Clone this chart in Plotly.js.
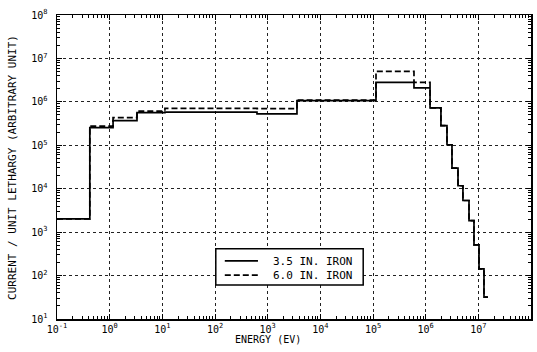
<!DOCTYPE html>
<html>
<head>
<meta charset="utf-8">
<script src="https://cdn.plot.ly/plotly-3.0.1.min.js"></script>
<style>html,body{margin:0;padding:0;background:#fff;}#chart{width:537px;height:352px;}</style>
</head>
<body>
<div id="chart"></div>
<script>
// Energy group boundaries (eV)
const binEdges = [0.1, 0.42, 1.16, 3.3, 11.2, 627, 3600, 1.14e5, 6.0e5, 1.21e6, 1.95e6, 2.54e6, 3.16e6, 4.11e6, 5.1e6, 6.65e6, 8.27e6, 1.03e7, 1.28e7, 1.52e7];
// Current per unit lethargy, one value per group
const iron35 = [2020, 2.54e5, 3.68e5, 5.63e5, 5.78e5, 5.26e5, 1.07e6, 2.82e6, 2.09e6, 7.23e5, 2.83e5, 1.03e5, 2.99e4, 1.17e4, 5350, 1850, 509, 142, 32];
const iron60 = [2020, 2.76e5, 4.32e5, 6.1e5, 7.08e5, 6.97e5, 1.10e6, 5.05e6, 2.82e6, 7.23e5, 2.83e5, 1.03e5, 2.99e4, 1.17e4, 5350, 1850, 509, 142, 32];
const seriesNames = ["3.5 IN. IRON", "6.0 IN. IRON"];
const xExponents = [-1, 0, 1, 2, 3, 4, 5, 6, 7, 8];
const yExponents = [1, 2, 3, 4, 5, 6, 7, 8];

function steps(edges, vals) {
  const x = [], y = [];
  for (let i = 0; i < vals.length; i++) { x.push(edges[i]); y.push(vals[i]); }
  x.push(edges[vals.length]); y.push(vals[vals.length - 1]);
  return {x, y};
}
function minorVals(lo, hi) {
  const v = [];
  for (let e = lo; e < hi; e++) for (let m = 2; m <= 9; m++) v.push(m * Math.pow(10, e));
  return v;
}
const s1 = steps(binEdges, iron35), s2 = steps(binEdges, iron60);
const FONT = "DejaVu Sans Mono, Liberation Mono, monospace";
const DASH = "6px,3px";

const traces = [
  {x: s1.x, y: s1.y, name: seriesNames[0], mode: "lines", line: {shape: "hv", color: "#000", width: 1.7}},
  {x: s2.x, y: s2.y, name: seriesNames[1], mode: "lines", line: {shape: "hv", color: "#000", width: 1.7, dash: DASH}}
];

const axisCommon = {
  type: "log", showline: true, mirror: "allticks", linecolor: "#000", linewidth: 1.5,
  ticks: "inside", ticklen: 5, tickcolor: "#000", tickwidth: 1,
  showgrid: true, gridcolor: "#222", gridwidth: 1, griddash: "3px,3px",
  zeroline: false, tickmode: "array",
  tickfont: {family: FONT, size: 10, color: "#000"}
};

// legend box geometry in paper coordinates
const lg = {x0: 0.335, x1: 0.646, y0: 0.112, y1: 0.231, row1: 0.1911, row2: 0.144, mid: 0.1675, lx0: 0.354, lx1: 0.424, tx: 0.452};

const layout = {
  width: 537, height: 352,
  margin: {l: 57, r: 6, t: 15, b: 33},
  paper_bgcolor: "#fff", plot_bgcolor: "#fff",
  font: {family: FONT, color: "#000"},
  showlegend: false,
  xaxis: Object.assign({}, axisCommon, {
    range: [-1, 8],
    tickvals: xExponents.map(e => Math.pow(10, e)),
    ticktext: xExponents.map(e => "10<sup>" + e + "</sup>"),
    minor: {tickmode: "array", tickvals: minorVals(-1, 8), ticks: "inside", ticklen: 3, tickcolor: "#000", showgrid: false}
  }),
  yaxis: Object.assign({}, axisCommon, {
    range: [1, 8],
    tickvals: yExponents.map(e => Math.pow(10, e)),
    ticktext: yExponents.map(e => "10<sup>" + e + "</sup>"),
    ticklabelstandoff: 6,
    minor: {tickmode: "array", tickvals: minorVals(1, 8), ticks: "inside", ticklen: 3, tickcolor: "#000", showgrid: false}
  }),
  shapes: [
    {type: "rect", xref: "paper", yref: "paper", x0: lg.x0, x1: lg.x1, y0: lg.y0, y1: lg.y1,
     fillcolor: "#fff", line: {color: "#000", width: 1.5}, layer: "above"},
    {type: "line", xref: "paper", yref: "paper", x0: lg.lx0, x1: lg.lx1, y0: lg.row1, y1: lg.row1,
     line: {color: "#000", width: 1.7}, layer: "above"},
    {type: "line", xref: "paper", yref: "paper", x0: lg.lx0, x1: lg.lx1, y0: lg.row2, y1: lg.row2,
     line: {color: "#000", width: 1.7, dash: DASH}, layer: "above"}
  ],
  annotations: [
    {text: seriesNames[0] + "<br>" + seriesNames[1], xref: "paper", yref: "paper", x: lg.tx, y: lg.mid,
     xanchor: "left", yanchor: "middle", align: "left",
     showarrow: false, font: {family: FONT, size: 11, color: "#000"}},
    {text: "ENERGY (EV)", xref: "paper", yref: "paper", x: 0.445, y: -0.069, xanchor: "center", yanchor: "middle",
     showarrow: false, font: {family: FONT, size: 10, color: "#000"}},
    {text: "CURRENT / UNIT LETHARGY (ARBITRARY UNIT)", xref: "paper", yref: "paper", x: -0.095, y: 0.5,
     xanchor: "center", yanchor: "middle", textangle: -90, showarrow: false, font: {family: FONT, size: 11, color: "#000"}}
  ]
};

Plotly.newPlot("chart", traces, layout, {displayModeBar: false, staticPlot: true});
</script>
</body>
</html>
